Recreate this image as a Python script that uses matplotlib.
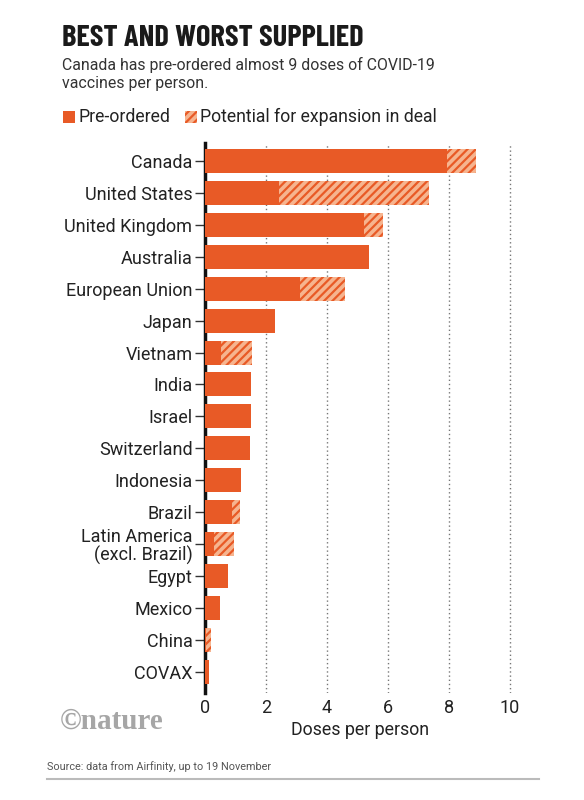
import matplotlib
matplotlib.use("Agg")
import matplotlib.pyplot as plt
from matplotlib.patches import Rectangle
from matplotlib import font_manager as fm
import numpy as np

countries = ["Canada", "United States", "United Kingdom", "Australia", "European Union",
             "Japan", "Vietnam", "India", "Israel", "Switzerland", "Indonesia", "Brazil",
             "Latin America\n(excl. Brazil)", "Egypt", "Mexico", "China", "COVAX"]
preordered = [7.92, 2.43, 5.20, 5.37, 3.11, 2.28, 0.51, 1.52, 1.52, 1.46, 1.18, 0.90,
              0.31, 0.74, 0.50, 0.04, 0.12]
potential_total = [8.87, 7.33, 5.85, 5.37, 4.59, 2.28, 1.55, 1.52, 1.52, 1.46, 1.18, 1.14,
                   0.94, 0.74, 0.50, 0.19, 0.12]
xticks = [0, 2, 4, 6, 8, 10]

ORANGE = "#E85A26"
PEACH = "#F6B48F"

names = {f.name for f in fm.fontManager.ttflist}
def pick(cands, default="DejaVu Sans"):
    for c in cands:
        if c in names:
            return c
    return default

base = pick(["Roboto", "Inter", "DejaVu Sans"])
title_font = pick(["Barlow Condensed", "Roboto Condensed", "Oswald", "Archivo Narrow",
                   "Liberation Sans Narrow"], base)
plt.rcParams["font.family"] = [base, "DejaVu Sans"]
plt.rcParams["hatch.color"] = ORANGE
plt.rcParams["hatch.linewidth"] = 1.6

fig = plt.figure(figsize=(5.84, 8.0), dpi=100)
ax = fig.add_axes([205/584, 1-693/800, 309.6/584, 550/800])

y = np.arange(len(countries))
extra = np.array(potential_total) - np.array(preordered)
ax.barh(y, preordered, height=0.75, color=ORANGE, linewidth=0, zorder=3)
ax.barh(y, extra, left=preordered, height=0.75, facecolor=PEACH, edgecolor=ORANGE,
        hatch="////", linewidth=0, zorder=3)

ax.set_xlim(0, 10.15)
ax.set_ylim(16.66, -0.56)
ax.set_yticks(y)
ax.set_yticklabels(countries, fontsize=13, color="#222222", linespacing=1.0)
ax.set_xticks(xticks)
ax.set_xticklabels([str(t) for t in xticks], fontsize=13, color="#222222")
for t in xticks[1:]:
    ax.axvline(t, color="#777777", linestyle=(0, (1, 2)), linewidth=1, zorder=1)
for s in ["top", "right", "bottom"]:
    ax.spines[s].set_visible(False)
ax.spines["left"].set_linewidth(2.5)
ax.spines["left"].set_color("#111111")
ax.tick_params(axis="y", length=7, width=1, color="#333333", pad=2)
ax.tick_params(axis="x", length=0, pad=4)
ax.set_xlabel("Doses per person", fontsize=12.8, color="#222222", labelpad=3)

# Title and subtitle
fig.text(62/584, 1-38/800, "BEST AND WORST SUPPLIED", fontsize=22, fontweight="bold",
         family=[title_font, "DejaVu Sans"], color="#1a1a1a", va="center", ha="left")
fig.text(62/584, 1-74/800, "Canada has pre-ordered almost 9 doses of COVID-19\nvaccines per person.",
         fontsize=11.4, color="#333333", va="center", ha="left", linespacing=1.2)

# Legend
fig.add_artist(Rectangle((63/584, 1-123/800), 12/584, 12/800, transform=fig.transFigure,
                         facecolor=ORANGE, linewidth=0))
fig.text(78/584, 1-117/800, "Pre-ordered", fontsize=12.7, color="#222222", va="center")
fig.add_artist(Rectangle((185/584, 1-123/800), 12/584, 12/800, transform=fig.transFigure,
                         facecolor=PEACH, edgecolor=ORANGE, hatch="////", linewidth=0))
fig.text(200/584, 1-117/800, "Potential for expansion in deal", fontsize=12.7, color="#222222",
         va="center")

# Logo and source
fig.text(60/584, 1-721/800, "\u00a9nature", fontsize=21, fontweight="bold",
         family=["Liberation Serif", "DejaVu Serif"], color="#a6a6a6", va="center")
fig.text(47/584, 1-767/800, "Source: data from Airfinity, up to 19 November", fontsize=7.8,
         color="#555555", va="center")
fig.add_artist(plt.Line2D([47/584, 539/584], [1-779/800, 1-779/800], transform=fig.transFigure,
                          color="#bbbbbb", linewidth=1.5))

fig.savefig("out.png", dpi=100, facecolor="white")
